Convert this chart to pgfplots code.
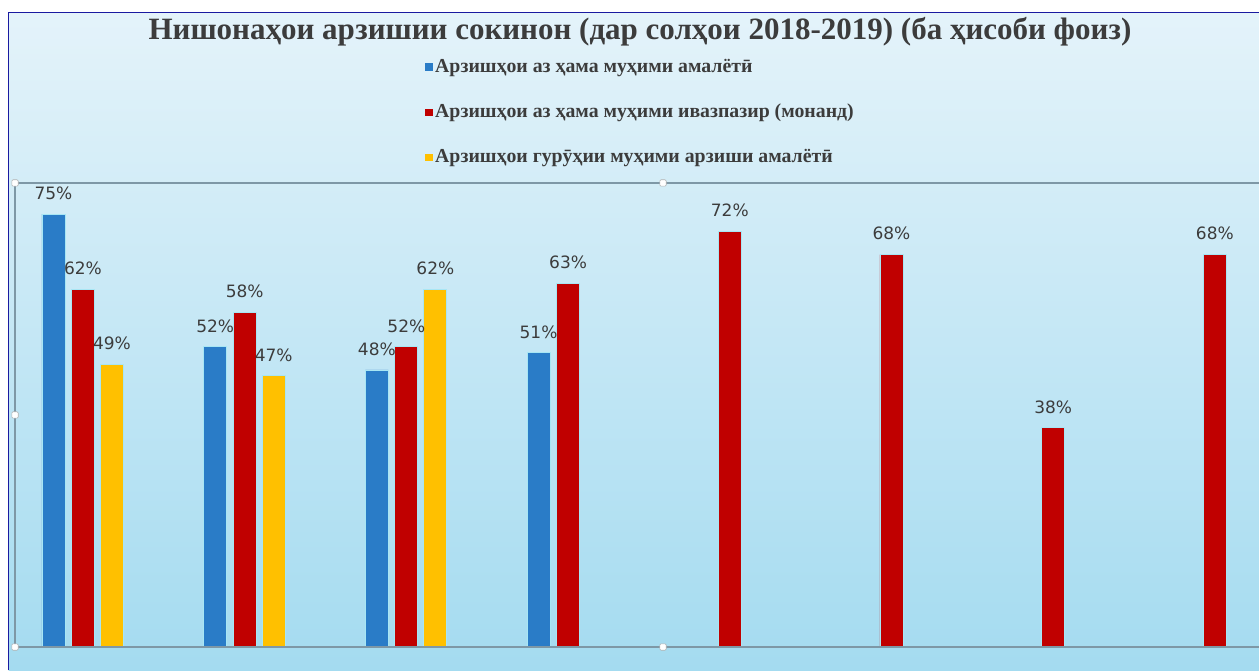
\documentclass[border=0pt]{standalone}
\usepackage{fontspec}
\setmainfont{Liberation Serif}
\newfontfamily\lblfont{DejaVu Sans}
\usepackage{pgfplots}
\pgfplotsset{compat=1.18}

\definecolor{sblue}{HTML}{2A7CC7}
\definecolor{sred}{HTML}{C00000}
\definecolor{syellow}{HTML}{FFC000}
\definecolor{bgtop}{HTML}{E4F3FA}
\definecolor{bgbot}{HTML}{A4DBF0}
\definecolor{framecol}{HTML}{1A1AA0}
\definecolor{axcol}{HTML}{7E98A6}
\definecolor{txt}{HTML}{3C3C3C}
\definecolor{barline}{HTML}{A8E6F4}

\begin{document}
\begin{tikzpicture}
\useasboundingbox (0,0) rectangle (629.5pt,335pt);
\fill[white] (0,0) rectangle (629.5pt,335pt);
\shade[top color=bgtop,bottom color=bgbot] (4.25pt,0) rectangle (629.5pt,328.75pt);
\draw[framecol,line width=0.8pt] (4.25pt,0) -- (4.25pt,328.75pt) -- (629.5pt,328.75pt);

\node[font=\bfseries\fontsize{15.5}{18}\selectfont,text=txt] at (320pt,319pt)
  {Нишонаҳои арзишии сокинон (дар солҳои 2018-2019) (ба ҳисоби фоиз)};

\begin{axis}[
  at={(7.5pt,11.5pt)}, anchor=south west,
  scale only axis, width=622pt, height=232pt,
  xmin=0.5795, xmax=8.273, ymin=0, ymax=80.4,
  axis lines=none,
  ybar, bar width=11.5pt,
  /pgf/number format/assume math mode=true,
  legend image code/.code={\fill[#1,draw=none] (0pt,-1.8pt) rectangle (3.6pt,1.8pt);},
  legend cell align=left,
  legend style={at={(0.3296,1.2737)}, anchor=north west, draw=none, fill=none,
    inner sep=0pt, row sep=12pt,
    font=\bfseries\fontsize{9.9}{11}\selectfont, text=txt,
    nodes={inner sep=1.2pt}},
  nodes near coords={\pgfmathprintnumber{\pgfplotspointmeta}\%},
  every node near coord/.append style={font=\lblfont\fontsize{8.5}{9}\selectfont,
    text=txt, anchor=south, inner sep=0pt, yshift=7pt},
  clip=false,
]
\addplot[fill=sblue, draw=barline, line width=0.4pt, bar shift=-14.75pt]
  coordinates {(1,75) (2,52) (3,48) (4,51)};
\addlegendentry{Арзишҳои аз ҳама муҳими амалётӣ}
\addplot[fill=sred, draw=barline, line width=0.4pt, bar shift=0pt]
  coordinates {(1,62) (2,58) (3,52) (4,63) (5,72) (6,68) (7,38) (8,68)};
\addlegendentry{Арзишҳои аз ҳама муҳими ивазпазир (монанд)}
\addplot[fill=syellow, draw=barline, line width=0.4pt, bar shift=14.5pt]
  coordinates {(1,49) (2,47) (3,62)};
\addlegendentry{Арзишҳои гурӯҳии муҳими арзиши амалётӣ}
\draw[axcol,line width=0.8pt] (rel axis cs:0,1) -- (rel axis cs:1,1);
\draw[axcol,line width=0.8pt] (rel axis cs:0,0) -- (rel axis cs:1,0);
\draw[axcol,line width=0.6pt] (rel axis cs:0,0) -- (rel axis cs:0,1);
\end{axis}

\foreach \hx/\hy in {7.5/243.5, 331.5/243.5, 7.5/127.5, 7.5/11.5, 331.5/11.5}
  \draw[gray!60,fill=white,rounded corners=0.6pt,line width=0.3pt]
    (\hx pt-1.6pt,\hy pt-1.6pt) rectangle (\hx pt+1.6pt,\hy pt+1.6pt);
\end{tikzpicture}
\end{document}
